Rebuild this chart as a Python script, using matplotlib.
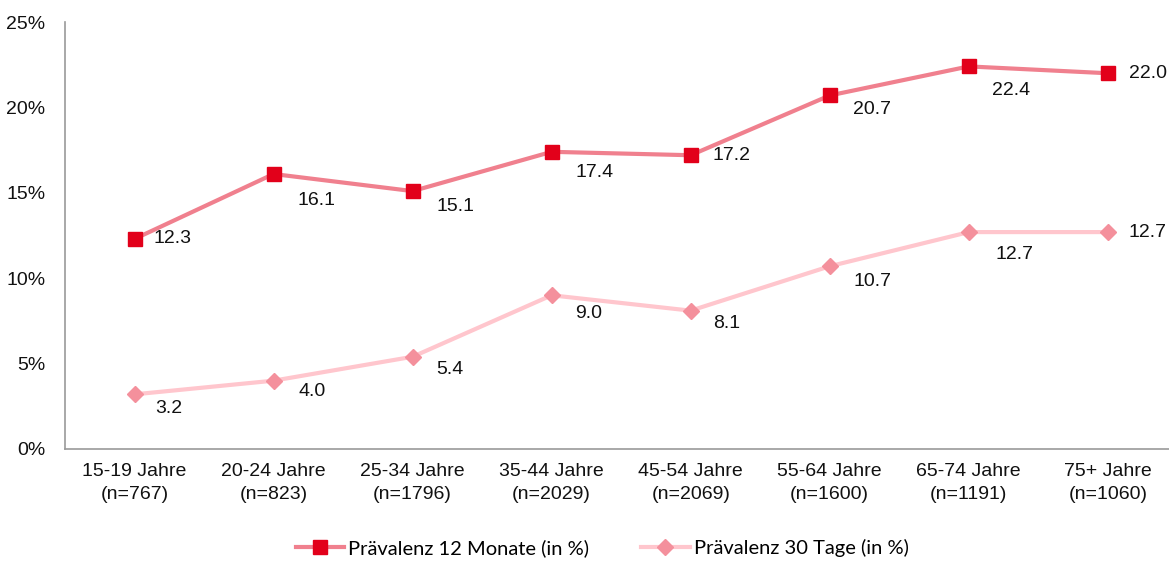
import matplotlib.pyplot as plt
from matplotlib.ticker import FuncFormatter

# data
gruppen = ['15-19 Jahre\n(n=767)', '20-24 Jahre\n(n=823)', '25-34 Jahre\n(n=1796)',
           '35-44 Jahre\n(n=2029)', '45-54 Jahre\n(n=2069)', '55-64 Jahre\n(n=1600)',
           '65-74 Jahre\n(n=1191)', '75+ Jahre\n(n=1060)']
praev_12m = [12.3, 16.1, 15.1, 17.4, 17.2, 20.7, 22.4, 22.0]
praev_30t = [3.2, 4.0, 5.4, 9.0, 8.1, 10.7, 12.7, 12.7]

# label offsets in points (dx, dy) relative to each marker
off_12m = [(14, 0), (17, -19), (17, -11), (17, -15), (16, 0), (17, -10), (17, -17), (15, 0)]
off_30t = [(15, -10), (18, -8), (17, -9), (17, -13), (16, -9), (17, -11), (19, -16), (15, 0)]

plt.rcParams['font.family'] = ['Liberation Sans Narrow', 'Liberation Sans', 'DejaVu Sans']

fig = plt.figure(figsize=(11.69, 5.63), dpi=100)
ax = fig.add_axes([0.0556, 0.2025, 0.9444, 0.7584])

x = list(range(len(gruppen)))
l1, = ax.plot(x, praev_12m, color='#F0808E', lw=3, marker='s', ms=10,
              mfc='#E2001A', mec='#E2001A', label='Prävalenz 12 Monate (in %)', zorder=3)
l2, = ax.plot(x, praev_30t, color='#FFC6CD', lw=3, marker='D', ms=8,
              mfc='#F4909C', mec='#F4909C', label='Prävalenz 30 Tage (in %)', zorder=3)

for xi, v, (dx, dy) in zip(x, praev_12m, off_12m):
    ax.annotate(f'{v:.1f}', (xi, v), xytext=(dx, dy), textcoords='offset points',
                ha='left', va='center', fontsize=14, color='#111111')
for xi, v, (dx, dy) in zip(x, praev_30t, off_30t):
    ax.annotate(f'{v:.1f}', (xi, v), xytext=(dx, dy), textcoords='offset points',
                ha='left', va='center', fontsize=14, color='#111111')

ax.set_xlim(-0.5, 7.44)
ax.set_ylim(0, 25)
ax.set_yticks([0, 5, 10, 15, 20, 25])
ax.yaxis.set_major_formatter(FuncFormatter(lambda v, p: f'{v:.0f}%'))
ax.set_xticks(x)
ax.set_xticklabels(gruppen)
ax.tick_params(length=0, labelsize=14, colors='#111111')
ax.tick_params(axis='y', pad=14)
ax.tick_params(axis='x', pad=10)
for t in ax.get_xticklabels():
    t.set_linespacing(1.5)

for s in ['top', 'right']:
    ax.spines[s].set_visible(False)
for s in ['left', 'bottom']:
    ax.spines[s].set_color('#9A9A9A')
    ax.spines[s].set_linewidth(1.2)

fig.legend(handles=[l1, l2], loc='center', bbox_to_anchor=(0.515, 0.027), ncol=2,
           frameon=False, prop={'family': 'Lato', 'size': 14.5}, handlelength=2.4,
           columnspacing=2.6, handletextpad=0.2)

fig.savefig('out.png', dpi=100)
